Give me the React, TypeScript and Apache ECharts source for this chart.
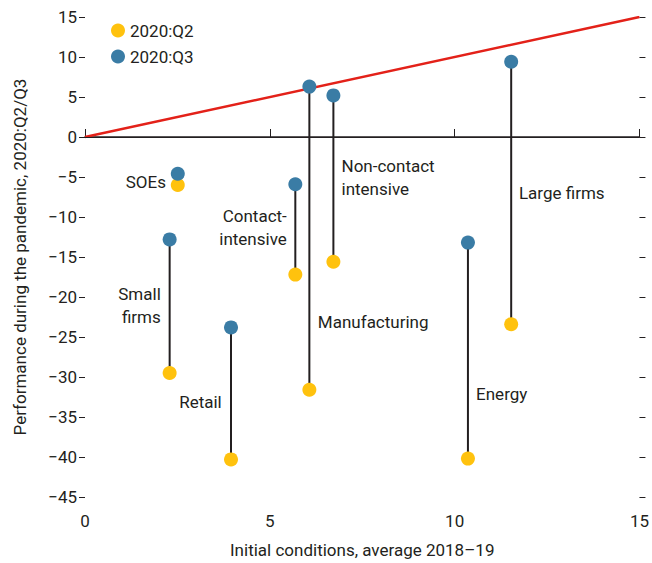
import React, { useEffect, useRef } from "react";
import * as echarts from "echarts";

const categories = ["SOEs", "Small firms", "Retail", "Contact-intensive", "Manufacturing", "Non-contact intensive", "Energy", "Large firms"];
const initialConditions = [2.51, 2.29, 3.95, 5.69, 6.07, 6.72, 10.36, 11.53];
const q2Values = [-6.0, -29.5, -40.3, -17.2, -31.6, -15.6, -40.2, -23.4];
const q3Values = [-4.6, -12.8, -23.8, -5.9, 6.3, 5.2, -13.2, 9.4];

// label anchors in data units
const labelX = [2.19, 2.05, 3.7, 5.46, 6.3, 6.94, 10.58, 11.74];
const labelY = [-5.6, -21.1, -33.1, -11.3, -23.1, -5.1, -32.1, -7.0];
const labelText = ["SOEs", "Small\nfirms", "Retail", "Contact-\nintensive", "Manufacturing", "Non-contact\nintensive", "Energy", "Large firms"];
const labelAlign = ["right", "right", "right", "right", "left", "left", "left", "left"];

const yTicks = { min: -45, max: 15, interval: 5 };
const xTicks = { min: 0, max: 15, interval: 5 };
const diagonal = [[0, 0], [15, 15]];

const FONT = "'Roboto', 'Liberation Sans', sans-serif";
const YELLOW = "#FFC20E";
const BLUE = "#3A7CA5";
const TEXT = "#231F20";

export default function App() {
  const ref = useRef<HTMLDivElement>(null);
  useEffect(() => {
    const chart = echarts.init(ref.current!, null, { renderer: "svg" });
    const minus = (v: number) => String(v).replace("-", "\u2212");
    chart.setOption({
      animation: false,
      textStyle: { fontFamily: FONT },
      grid: { left: 85, right: 12, top: 17, bottom: 66, containLabel: false },
      legend: {
        left: 106,
        top: 17,
        orient: "vertical",
        itemWidth: 14,
        itemHeight: 14,
        itemGap: 9,
        icon: "circle",
        textStyle: { fontSize: 17, color: TEXT, fontFamily: FONT },
        data: ["2020:Q2", "2020:Q3"],
      },
      xAxis: {
        type: "value",
        min: xTicks.min,
        max: xTicks.max,
        interval: xTicks.interval,
        name: "Initial conditions, average 2018\u201319",
        nameLocation: "middle",
        nameGap: 44,
        nameTextStyle: { fontSize: 17, color: TEXT, fontFamily: FONT },
        axisLine: { show: true, lineStyle: { color: TEXT, width: 1.5 } },
        axisTick: { show: true, inside: true, length: 8, lineStyle: { color: TEXT } },
        axisLabel: { fontSize: 17, color: TEXT, margin: 15, fontFamily: FONT },
        splitLine: { show: false },
      },
      yAxis: [
        {
          type: "value",
          min: yTicks.min,
          max: yTicks.max,
          interval: yTicks.interval,
          name: "Performance during the pandemic, 2020:Q2/Q3",
          nameLocation: "middle",
          nameGap: 57,
          nameTextStyle: { fontSize: 17, color: TEXT, fontFamily: FONT },
          axisLine: { show: false },
          axisTick: { show: true, length: 6, lineStyle: { color: TEXT } },
          axisLabel: { fontSize: 17, color: TEXT, margin: 8, formatter: minus, fontFamily: FONT },
          splitLine: { show: false },
        },
        {
          type: "value",
          position: "right",
          min: yTicks.min,
          max: yTicks.max,
          interval: yTicks.interval,
          axisLine: { show: false },
          axisTick: { show: true, length: 6, lineStyle: { color: TEXT } },
          axisLabel: { show: false },
          splitLine: { show: false },
        },
      ],
      series: [
        {
          type: "line",
          data: diagonal,
          symbol: "none",
          lineStyle: { color: "#E32119", width: 2.5 },
          silent: true,
          z: 1,
          markLine: {
            silent: true,
            symbol: "none",
            label: { show: false },
            lineStyle: { color: TEXT, width: 1, type: "solid" },
            data: [{ yAxis: 0 }],
          },
        },
        {
          type: "custom",
          z: 2,
          data: categories.map((c, i) => [initialConditions[i], q2Values[i], q3Values[i]]),
          renderItem: (params: any, api: any) => {
            const p1 = api.coord([api.value(0), api.value(1)]);
            const p2 = api.coord([api.value(0), api.value(2)]);
            return {
              type: "line",
              shape: { x1: p1[0], y1: p1[1], x2: p2[0], y2: p2[1] },
              style: { stroke: TEXT, lineWidth: 2 },
            };
          },
        },
        {
          name: "2020:Q2",
          type: "scatter",
          z: 3,
          symbolSize: 14,
          itemStyle: { color: YELLOW, opacity: 1 },
          data: categories.map((c, i) => [initialConditions[i], q2Values[i]]),
        },
        {
          name: "2020:Q3",
          type: "scatter",
          z: 3,
          symbolSize: 14,
          itemStyle: { color: BLUE, opacity: 1 },
          data: categories.map((c, i) => [initialConditions[i], q3Values[i]]),
        },
        {
          type: "custom",
          z: 4,
          silent: true,
          data: categories.map((c, i) => [labelX[i], labelY[i], i]),
          renderItem: (params: any, api: any) => {
            const idx = api.value(2);
            const p = api.coord([api.value(0), api.value(1)]);
            return {
              type: "text",
              x: p[0],
              y: p[1],
              style: {
                text: labelText[idx],
                fill: TEXT,
                fontSize: 17,
                fontFamily: FONT,
                lineHeight: 23,
                align: labelAlign[idx],
                verticalAlign: "middle",
              },
            };
          },
        },
      ],
    });
    return () => chart.dispose();
  }, []);
  return <div ref={ref} style={{ position: "absolute", left: 0, top: 0, width: 652, height: 563 }} />;
}
